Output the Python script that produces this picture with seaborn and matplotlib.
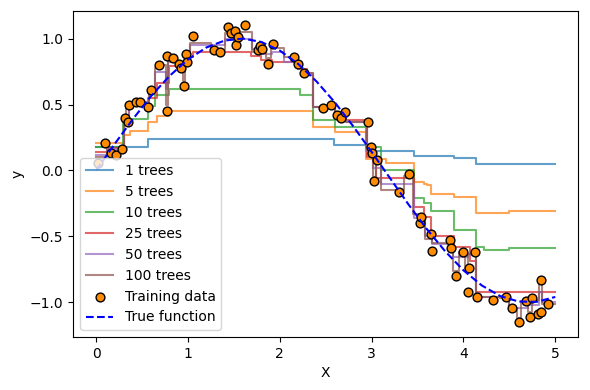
import numpy as np
import pandas as pd
import seaborn as sns
import matplotlib
matplotlib.use("Agg")
import matplotlib.pyplot as plt

# training points
train_x = [0.02, 0.10, 0.16, 0.22, 0.28, 0.31, 0.35, 0.36, 0.43, 0.48,
           0.56, 0.60, 0.68, 0.77, 0.77, 0.84, 0.90, 0.92, 0.96, 0.98,
           0.99, 1.05, 1.28, 1.35, 1.44, 1.47, 1.51, 1.52, 1.54, 1.62,
           1.76, 1.79, 1.81, 1.87, 1.93, 2.15, 2.20, 2.26, 2.47, 2.56,
           2.62, 2.67, 2.71, 2.96, 2.99, 3.00, 3.03, 3.06, 3.30, 3.41,
           3.53, 3.54, 3.65, 3.66, 3.85, 3.87, 3.92, 4.00, 4.05, 4.06,
           4.13, 4.15, 4.32, 4.46, 4.53, 4.60, 4.68, 4.73, 4.75, 4.81,
           4.84, 4.84, 4.92]
train_y = [0.055, 0.21, 0.13, 0.12, 0.16, 0.40, 0.37, 0.50, 0.52, 0.52,
           0.48, 0.61, 0.80, 0.45, 0.87, 0.85, 0.81, 0.78, 0.64, 0.88,
           0.82, 1.02, 0.91, 0.90, 1.09, 1.04, 1.06, 0.95, 1.01, 1.10,
           0.91, 0.94, 0.92, 0.81, 0.96, 0.86, 0.81, 0.74, 0.47, 0.50,
           0.42, 0.40, 0.44, 0.37, 0.18, 0.13, -0.08, 0.08, -0.16, -0.03,
           -0.40, -0.35, -0.48, -0.61, -0.53, -0.59, -0.80, -0.62, -0.92, -0.74,
           -0.62, -0.96, -0.98, -0.96, -1.04, -1.15, -0.99, -1.11, -0.97, -1.09,
           -1.07, -0.83, -1.01]

# true function samples
true_x = [0.0, 0.2, 0.4, 0.6, 0.8, 1.0, 1.2, 1.4, 1.6, 1.8, 2.0, 2.2, 2.4,
          2.6, 2.8, 3.0, 3.2, 3.4, 3.6, 3.8, 4.0, 4.2, 4.4, 4.6, 4.8, 5.0]
true_y = [0.0, 0.199, 0.389, 0.565, 0.717, 0.841, 0.932, 0.985, 1.0, 0.974,
          0.909, 0.808, 0.675, 0.516, 0.335, 0.141, -0.058, -0.256, -0.443,
          -0.612, -0.757, -0.872, -0.952, -0.994, -0.996, -0.959]

# staircase predictions: split points and levels between them
breaks_1 = [0, 0.57, 2.59, 2.94, 3.46, 3.90, 4.14, 5.0]
levels_1 = [0.18, 0.235, 0.195, 0.15, 0.11, 0.096, 0.05]

breaks_5 = [0, 0.30, 0.37, 0.57, 0.66, 0.79, 2.36, 2.60, 2.94, 3.16, 3.46,
            3.57, 3.60, 3.65, 3.90, 4.14, 4.50, 5.0]
levels_5 = [0.21, 0.27, 0.30, 0.37, 0.41, 0.45, 0.33, 0.29, 0.09, 0.06,
            -0.09, -0.10, -0.11, -0.18, -0.20, -0.32, -0.31]

breaks_10 = [0, 0.29, 0.57, 0.64, 0.79, 2.22, 2.36, 2.60, 2.94, 3.10,
             3.46, 3.57, 3.65, 3.90, 4.14, 4.22, 4.50, 5.0]
levels_10 = [0.18, 0.39, 0.49, 0.57, 0.62, 0.57, 0.38, 0.33, 0.18, 0.0,
             -0.21, -0.25, -0.31, -0.45, -0.58, -0.60, -0.59]

breaks_25 = [0, 0.12, 0.30, 0.36, 0.57, 0.66, 0.79, 0.98, 1.05, 1.69, 1.80,
             1.92, 2.20, 2.30, 2.36, 2.60, 2.72, 2.95, 3.05, 3.46, 3.57,
             3.65, 3.90, 4.07, 4.14, 5.0]
levels_25 = [0.14, 0.17, 0.42, 0.50, 0.55, 0.66, 0.79, 0.86, 0.90, 0.87,
             0.84, 0.82, 0.77, 0.72, 0.48, 0.44, 0.38, 0.10, -0.06, -0.28,
             -0.35, -0.50, -0.58, -0.69, -0.92]

breaks_50 = [0, 0.12, 0.30, 0.36, 0.52, 0.58, 0.64, 0.76, 0.78, 0.95, 0.97,
             1.02, 1.40, 1.70, 1.80, 1.92, 2.05, 2.24, 2.36, 2.60, 2.72,
             2.95, 3.02, 3.10, 3.46, 3.58, 3.66, 3.89, 4.05, 4.14, 4.50,
             4.70, 4.82, 4.86, 5.0]
levels_50 = [0.12, 0.16, 0.40, 0.50, 0.52, 0.60, 0.75, 0.62, 0.82, 0.75,
             0.86, 0.95, 1.00, 0.92, 0.88, 0.90, 0.82, 0.74, 0.48, 0.42,
             0.37, 0.15, 0.02, -0.10, -0.36, -0.50, -0.56, -0.66, -0.64,
             -0.96, -1.04, -1.02, -0.92, -1.00]

breaks_100 = [0, 0.12, 0.25, 0.30, 0.33, 0.40, 0.52, 0.58, 0.64, 0.72, 0.76,
              0.78, 0.88, 0.95, 0.97, 1.02, 1.25, 1.40, 1.50, 1.56, 1.70,
              1.78, 1.85, 1.90, 2.05, 2.17, 2.24, 2.36, 2.52, 2.60, 2.72,
              2.95, 3.01, 3.05, 3.10, 3.35, 3.45, 3.52, 3.58, 3.66, 3.84,
              3.89, 3.95, 4.02, 4.05, 4.10, 4.14, 4.40, 4.50, 4.58, 4.63,
              4.70, 4.75, 4.82, 4.86, 5.0]
levels_100 = [0.10, 0.15, 0.16, 0.38, 0.47, 0.52, 0.50, 0.62, 0.78, 0.80,
              0.50, 0.85, 0.79, 0.68, 0.85, 0.97, 0.91, 1.04, 0.98, 1.05,
              0.90, 0.93, 0.85, 0.93, 0.86, 0.80, 0.74, 0.48, 0.50, 0.42,
              0.37, 0.16, -0.05, 0.07, -0.15, -0.04, -0.33, -0.38, -0.52,
              -0.55, -0.58, -0.76, -0.62, -0.75, -0.63, -0.62, -0.96, -0.97,
              -1.04, -1.12, -0.99, -1.07, -0.98, -0.86, -1.01]

curves = [
    ("1 trees", breaks_1, levels_1),
    ("5 trees", breaks_5, levels_5),
    ("10 trees", breaks_10, levels_10),
    ("25 trees", breaks_25, levels_25),
    ("50 trees", breaks_50, levels_50),
    ("100 trees", breaks_100, levels_100),
]
colors = sns.color_palette("tab10", 6)

fig, ax = plt.subplots(figsize=(5.9, 3.9), dpi=100)

for (label, bx, lv), col in zip(curves, colors):
    df = pd.DataFrame({"x": bx, "y": lv + [lv[-1]]})
    sns.lineplot(data=df, x="x", y="y", ax=ax, drawstyle="steps-post",
                 color=col, alpha=0.7, linewidth=1.5, label=label,
                 estimator=None, sort=False)

sns.scatterplot(x=train_x, y=train_y, ax=ax, color="darkorange",
                edgecolor="black", linewidth=1, s=40, label="Training data",
                zorder=3)
sns.lineplot(x=true_x, y=true_y, ax=ax, color="blue", linestyle="--",
             linewidth=1.5, label="True function", estimator=None, zorder=4)

ax.set_xlabel("X")
ax.set_ylabel("y")
ax.legend(loc="lower left")
fig.subplots_adjust(left=0.124, right=0.98, top=0.973, bottom=0.136)
plt.savefig("out.png")
